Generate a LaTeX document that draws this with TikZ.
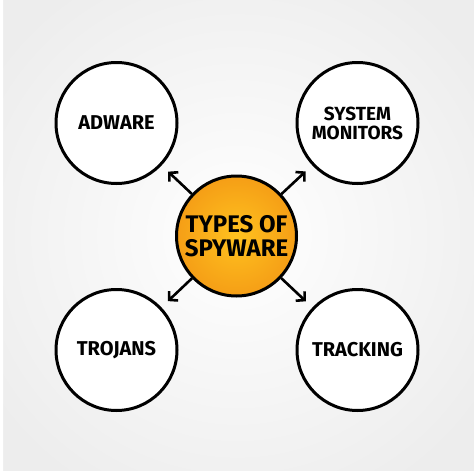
\documentclass[tikz,border=0pt]{standalone}
\usepackage{fontspec}
\setmainfont{Fira Sans}
\usetikzlibrary{arrows.meta}
\definecolor{bgedge}{HTML}{EDEDED}
\definecolor{orin}{HTML}{FFC21F}
\definecolor{orout}{HTML}{F59E16}
\tikzset{
  x=1pt, y=-1pt,
  bubble/.style={circle, draw=black, line width=3pt, fill=white, minimum size=121pt, inner sep=0pt,
    align=center, font=\fontsize{20}{20}\selectfont\bfseries},
  hub/.style={bubble, fill=none, inner color=orin, outer color=orout, minimum size=120pt,
    font=\fontsize{24}{24}\selectfont\bfseries},
  link/.style={line width=2.6pt, -{Straight Barb[length=6pt,width=13pt,line width=2.6pt]}, shorten >=9pt}
}
\begin{document}
\begin{tikzpicture}
\useasboundingbox (0,0) rectangle (474,474);
\fill[white] (0,0) rectangle (474,474);
\shade[inner color=white, outer color=bgedge] (-60,-60) rectangle (534,531);
\fill[white] (0,0) rectangle (3,474) (0,471) rectangle (474,474);
\node[hub] (c) at (236.5,236) {TYPES OF\\SPYWARE};
\node[bubble] (a) at (116.5,123) {ADWARE};
\node[bubble, font=\fontsize{19}{19}\selectfont\bfseries] (s) at (357.5,123) {SYSTEM\\MONITORS};
\node[bubble] (t) at (116.5,350) {TROJANS};
\node[bubble] (k) at (357.5,350) {TRACKING};
\draw[link] (c) -- (a);
\draw[link] (c) -- (s);
\draw[link] (c) -- (t);
\draw[link] (c) -- (k);
\end{tikzpicture}
\end{document}
